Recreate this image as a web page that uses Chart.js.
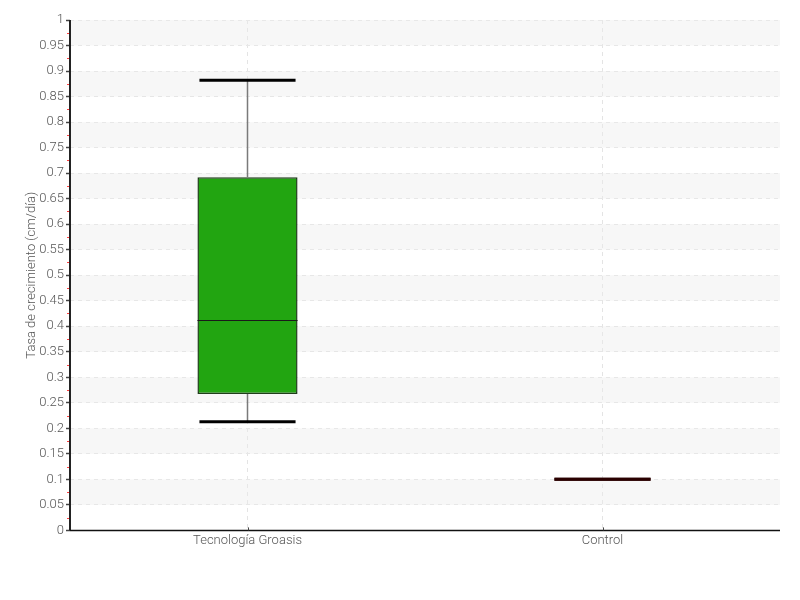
<!DOCTYPE html>
<html>
<head>
<meta charset="utf-8">
<script src="https://cdn.jsdelivr.net/npm/chart.js@4.4.1/dist/chart.umd.min.js"></script>
<style>
  body { margin: 0; background: #fff; }
  #wrap { width: 800px; height: 600px; }
</style>
</head>
<body>
<div id="wrap"><canvas id="box-chart"></canvas></div>
<script>
// box plot values
const categories = ['Tecnología Groasis', 'Control'];
const minVals = [0.213, 0.1];
const q1Vals = [0.267, 0.1];
const medianVals = [0.412, 0.1];
const q3Vals = [0.692, 0.1];
const maxVals = [0.882, 0.1];
const capColors = ['#000000', '#2a0000'];

const fontFamily = 'Roboto, sans-serif';

// alternating grey bands, axis lines and red minor ticks
const bandsPlugin = {
    id: 'bands',
    beforeDatasetsDraw(chart) {
        const { ctx, chartArea, scales } = chart;
        const y = scales.y;
        ctx.save();
        ctx.fillStyle = 'rgba(235,235,235,0.4)';
        for (let v = 0.05; v < 1; v += 0.1) {
            const top = y.getPixelForValue(v + 0.05);
            const bottom = y.getPixelForValue(v);
            ctx.fillRect(chartArea.left, top, chartArea.right - chartArea.left, bottom - top);
        }
        ctx.restore();
    },
    afterDraw(chart) {
        const { ctx, chartArea, scales } = chart;
        const y = scales.y;
        ctx.save();
        // axis lines (solid)
        ctx.strokeStyle = '#222';
        ctx.lineWidth = 2;
        ctx.beginPath();
        ctx.moveTo(chartArea.left, chartArea.top);
        ctx.lineTo(chartArea.left, chartArea.bottom);
        ctx.stroke();
        ctx.strokeStyle = '#111';
        ctx.lineWidth = 1.5;
        ctx.beginPath();
        ctx.moveTo(chartArea.left, chartArea.bottom);
        ctx.lineTo(chartArea.right, chartArea.bottom);
        ctx.stroke();
        // small ticks on x axis at the categories
        ctx.strokeStyle = '#444';
        ctx.lineWidth = 1;
        categories.forEach((c, i) => {
            const px = Math.round(scales.x.getPixelForValue(i)) + 0.5;
            ctx.beginPath();
            ctx.moveTo(px, chartArea.bottom);
            ctx.lineTo(px, chartArea.bottom - 3);
            ctx.stroke();
        });
        // red minor ticks
        ctx.strokeStyle = '#ff4040';
        for (let v = 0.025; v < 1; v += 0.05) {
            const py = Math.round(y.getPixelForValue(v)) + 0.5;
            ctx.beginPath();
            ctx.moveTo(chartArea.left - 3, py);
            ctx.lineTo(chartArea.left - 1, py);
            ctx.stroke();
        }
        ctx.restore();
    }
};

// whiskers, caps and median lines
const whiskerPlugin = {
    id: 'whiskers',
    afterDatasetsDraw(chart) {
        const { ctx, scales } = chart;
        const x = scales.x;
        const y = scales.y;
        const meta = chart.getDatasetMeta(0);
        ctx.save();
        categories.forEach((cat, i) => {
            const cx = x.getPixelForValue(i);
            const half = meta.data[i].width / 2 - 2;
            ctx.strokeStyle = '#7a7a7a';
            ctx.lineWidth = 1.5;
            ctx.beginPath();
            ctx.moveTo(cx, y.getPixelForValue(maxVals[i]));
            ctx.lineTo(cx, y.getPixelForValue(q3Vals[i]));
            ctx.moveTo(cx, y.getPixelForValue(q1Vals[i]));
            ctx.lineTo(cx, y.getPixelForValue(minVals[i]));
            ctx.stroke();
            if (q3Vals[i] > q1Vals[i]) {
                ctx.strokeStyle = '#1a1a1a';
                ctx.lineWidth = 1;
                const my = Math.round(y.getPixelForValue(medianVals[i])) + 0.5;
                ctx.beginPath();
                ctx.moveTo(cx - half - 2, my);
                ctx.lineTo(cx + half + 2, my);
                ctx.stroke();
            }
            ctx.strokeStyle = capColors[i];
            ctx.lineWidth = 3;
            [minVals[i], maxVals[i]].forEach(v => {
                const py = y.getPixelForValue(v);
                ctx.beginPath();
                ctx.moveTo(cx - half, py);
                ctx.lineTo(cx + half, py);
                ctx.stroke();
            });
        });
        ctx.restore();
    }
};

const ctx = document.getElementById('box-chart').getContext('2d');
const boxChart = new Chart(ctx, {
    type: 'bar',
    data: {
        labels: categories,
        datasets: [{
            label: 'Tasa de crecimiento',
            data: q1Vals.map((q1, i) => [q1, q3Vals[i]]),
            backgroundColor: '#22a511',
            borderColor: '#1f3d1a',
            borderWidth: 1.5,
            borderSkipped: false,
            categoryPercentage: 1,
            barPercentage: 0.282
        }]
    },
    options: {
        responsive: true,
        maintainAspectRatio: false,
        animation: false,
        layout: {
            padding: { top: 20, right: 20, bottom: 48, left: 24 }
        },
        scales: {
            x: {
                grid: {
                    color: '#e4e4e4',
                    offset: false,
                    drawTicks: false,
                    tickLength: 0
                },
                border: { display: false, dash: [4, 4] },
                ticks: {
                    color: '#555',
                    padding: 3,
                    font: { family: fontFamily, size: 13, weight: '300' }
                }
            },
            y: {
                min: 0,
                max: 1,
                afterFit: scale => { scale.width = 46; },
                ticks: {
                    stepSize: 0.05,
                    color: '#555',
                    padding: 2,
                    font: { family: fontFamily, size: 13, weight: '300' },
                    callback: v => parseFloat(v.toFixed(2)).toString()
                },
                grid: {
                    color: '#e6e6e6',
                    tickBorderDash: [],
                    tickColor: '#444',
                    tickLength: 4,
                    tickWidth: 1.5
                },
                border: { display: false, dash: [4, 4] },
                title: {
                    display: true,
                    text: 'Tasa de crecimiento (cm/día)',
                    color: '#555',
                    padding: 0,
                    font: { family: fontFamily, size: 13, weight: '300' }
                }
            }
        },
        plugins: {
            legend: { display: false },
            tooltip: { enabled: false }
        }
    },
    plugins: [bandsPlugin, whiskerPlugin]
});
</script>
</body>
</html>
